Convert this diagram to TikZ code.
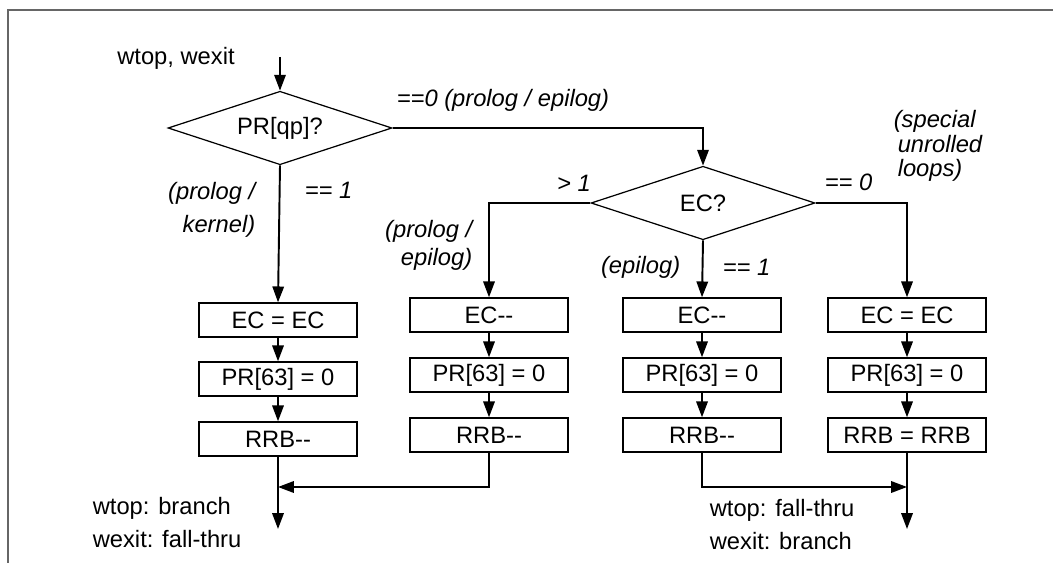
\documentclass[tikz,border=0pt]{standalone}
\usepackage{fontspec}
\setmainfont{Liberation Sans}
\usetikzlibrary{shapes.geometric,arrows.meta}

\begin{document}
\begin{tikzpicture}[x=0.02cm, y=-0.02cm,
  font=\fontsize{13.5}{16}\selectfont,
  line width=1.1pt,
  box/.style={draw, rectangle, minimum width=3.16cm, minimum height=0.67cm, inner sep=0pt},
  decision/.style={draw, diamond, aspect=3, minimum width=4.48cm, minimum height=1.47cm, inner sep=0pt, line width=0.7pt},
  flow/.style={-{Triangle[length=9pt, width=6.5pt]}},
  lbl/.style={font=\fontsize{13.5}{16}\selectfont\itshape}]

\useasboundingbox (0,0) rectangle (1053,563);
\draw[gray!80!black, line width=1pt] (8,563) -- (8,10) -- (1053,10);

\def\xA{278}
\def\xB{489}
\def\xC{702}
\def\xD{907}

\node (entry) at (176,58) {wtop, wexit};
\coordinate (start) at (280,57);
\node[decision] (qp) at (280,128) {PR[qp]?};
\node[decision] (ec) at (703,203) {EC?};

\draw[flow] (start) -- (qp.north);
\draw[flow] (qp.east) -| (ec.north);
\node[lbl, anchor=west] (zero) at (390,100) {==0 (prolog / epilog)};

\node[box] (k1) at (\xA,320) {EC = EC};
\node[box] (k2) at (\xA,379) {PR[63] = 0};
\node[box] (k3) at (\xA,439) {RRB-{}-};

\node[box] (m1) at (\xB,315) {EC-{}-};
\node[box] (m2) at (\xB,375) {PR[63] = 0};
\node[box] (m3) at (\xB,435) {RRB-{}-};

\node[box] (e1) at (\xC,315) {EC-{}-};
\node[box] (e2) at (\xC,375) {PR[63] = 0};
\node[box] (e3) at (\xC,435) {RRB-{}-};

\node[box] (s1) at (\xD,315) {EC = EC};
\node[box] (s2) at (\xD,375) {PR[63] = 0};
\node[box] (s3) at (\xD,435) {RRB = RRB};

\draw[flow] (qp.south) -- (k1.north);
\node[lbl, align=right, anchor=east] (kern) at (262,210) {(prolog /\\[3pt]kernel)};
\node[lbl, anchor=west] (one) at (298,190) {== 1};

\draw[flow] (ec.west) -| (m1.north);
\node[lbl] (more) at (574,183) {> 1};
\node[lbl, align=right, anchor=east] (proepi) at (479,245) {(prolog /\\[0pt]epilog)};

\draw[flow] (ec.south) -- (e1.north);
\node[lbl, anchor=east] (epi) at (687,267) {(epilog)};
\node[lbl, anchor=west] (econe) at (716,267) {== 1};

\draw[flow] (ec.east) -| (s1.north);
\node[lbl, anchor=west] (eczero) at (818,182) {== 0};
\node[lbl, align=left, anchor=west] (special) at (887,146) {(special\\[-2pt]\,unrolled\\[-2pt]\,loops)};

\draw[flow] (k1) -- (k2);
\draw[flow] (k2) -- (k3);
\draw[flow] (m1) -- (m2);
\draw[flow] (m2) -- (m3);
\draw[flow] (e1) -- (e2);
\draw[flow] (e2) -- (e3);
\draw[flow] (s1) -- (s2);
\draw[flow] (s2) -- (s3);

\coordinate (end1) at (\xA,529);
\coordinate (join1) at (\xA,487);
\coordinate (end2) at (\xD,529);
\coordinate (join2) at (\xD,487);

\draw[flow] (k3.south) -- (end1);
\draw[flow] (m3.south) |- (join1);
\draw[flow] (s3.south) -- (end2);
\draw[flow] (e3.south) |- (join2);

\node[anchor=west] (takeA) at (86,508) {wtop: branch};
\node[anchor=west] (fallA) at (86,539) {wexit: fall-thru};
\node[anchor=west] (takeB) at (703,510) {wtop: fall-thru};
\node[anchor=west] (fallB) at (703,541) {wexit: branch};

\end{tikzpicture}
\end{document}
